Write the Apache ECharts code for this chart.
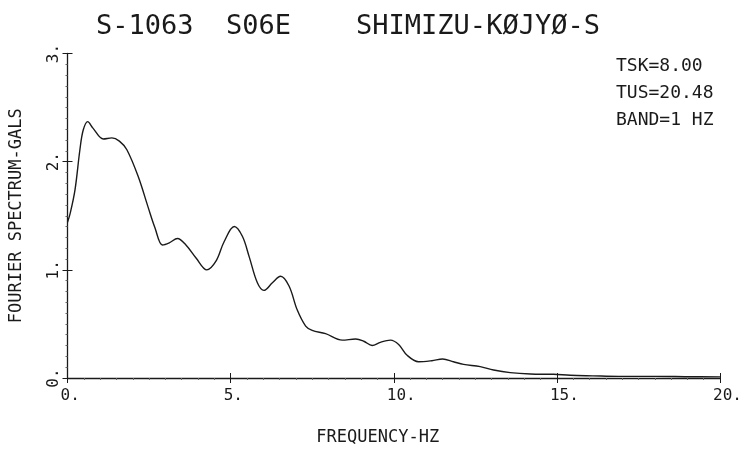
<!DOCTYPE html>
<html>
<head>
<meta charset="utf-8">
<script src="https://cdn.jsdelivr.net/npm/echarts@6/dist/echarts.min.js"></script>
<style>
html,body{margin:0;padding:0;background:#fff;}
#chart{width:742px;height:449px;}
</style>
</head>
<body>
<div id="chart"></div>
<script>
// ---- data ----
var titleText = 'S-1063  S06E    SHIMIZU-KØJYØ-S';
var infoLines = ['TSK=8.00', 'TUS=20.48', 'BAND=1 HZ'];
var xName = 'FREQUENCY-HZ';
var yName = 'FOURIER SPECTRUM-GALS';
var xTicks = [0, 5, 10, 15, 20];
var yTicks = [0, 1, 2, 3];
var freq = [0, 0.08, 0.23, 0.38, 0.48, 0.62, 0.78, 1.10, 1.36, 1.59, 1.82, 2.17, 2.47, 2.68, 2.91, 3.12, 3.37, 3.63, 3.94, 4.27, 4.55, 4.80, 5.11, 5.36, 5.57, 5.82, 6.02, 6.28, 6.53, 6.79, 7.04, 7.30, 7.50, 7.91, 8.42, 8.83, 9.08, 9.34, 9.59, 9.90, 10.15, 10.41, 10.76, 11.17, 11.50, 11.83, 12.14, 12.65, 13.06, 13.57, 14.19, 14.90, 15.41, 16.10, 16.90, 18.00, 19.00, 20.00];
var amp  = [1.44, 1.52, 1.74, 2.11, 2.29, 2.37, 2.31, 2.21, 2.22, 2.19, 2.11, 1.86, 1.58, 1.39, 1.23, 1.25, 1.29, 1.23, 1.11, 1.00, 1.08, 1.26, 1.40, 1.31, 1.12, 0.88, 0.81, 0.88, 0.94, 0.85, 0.63, 0.48, 0.44, 0.41, 0.35, 0.36, 0.34, 0.30, 0.33, 0.35, 0.31, 0.21, 0.15, 0.16, 0.175, 0.15, 0.126, 0.105, 0.074, 0.05, 0.037, 0.034, 0.025, 0.02, 0.015, 0.015, 0.012, 0.01];

var FONT = 'DejaVu Sans Mono';
var INK = '#1a1a1a';
var pts = freq.map(function (f, i) { return [f, amp[i]]; });

var chart = echarts.init(document.getElementById('chart'), null, {renderer: 'canvas'});
chart.setOption({
  backgroundColor: '#ffffff',
  animation: false,
  title: [
    {text: titleText, left: 91, top: 8,
     textStyle: {fontFamily: FONT, fontSize: 27, fontWeight: 'normal', color: INK}},
    {text: infoLines[0], left: 611, top: 52,
     textStyle: {fontFamily: FONT, fontSize: 18, fontWeight: 'normal', color: INK}},
    {text: infoLines[1], left: 611, top: 79,
     textStyle: {fontFamily: FONT, fontSize: 18, fontWeight: 'normal', color: INK}},
    {text: infoLines[2], left: 611, top: 106,
     textStyle: {fontFamily: FONT, fontSize: 18, fontWeight: 'normal', color: INK}}
  ],
  grid: {left: 67.5, right: 22, top: 53.5, bottom: 71, containLabel: false, outerBoundsMode: 'none'},
  xAxis: [
    {type: 'value', min: xTicks[0], max: xTicks[xTicks.length - 1], interval: 5,
     name: xName, nameLocation: 'middle', nameGap: 51,
     nameTextStyle: {fontFamily: FONT, fontSize: 17, color: INK, padding: [0, 32, 0, 0]},
     axisLine: {show: true, lineStyle: {color: INK, width: 1.3}},
     axisTick: {show: true, inside: false, length: 5, lineStyle: {color: INK, width: 1}},
     minorTick: {show: true, splitNumber: 10, length: 2, lineStyle: {color: '#666', width: 1}},
     axisLabel: {fontFamily: FONT, fontSize: 16, color: INK, margin: 10, align: 'left',
                 padding: [0, 0, 0, -7],
                 formatter: function (v) { return v + '.'; }},
     splitLine: {show: false}},
    {type: 'value', min: xTicks[0], max: xTicks[xTicks.length - 1], interval: 5,
     position: 'bottom', gridIndex: 0,
     axisLine: {show: false},
     axisTick: {show: true, inside: true, length: 5, lineStyle: {color: INK, width: 1}},
     axisLabel: {show: false}, splitLine: {show: false}}
  ],
  yAxis: [
    {type: 'value', min: yTicks[0], max: yTicks[yTicks.length - 1], interval: 1,
     name: yName, nameLocation: 'middle', nameGap: 42, nameRotate: 90,
     nameTextStyle: {fontFamily: FONT, fontSize: 17, color: INK},
     axisLine: {show: true, lineStyle: {color: INK, width: 1.3}},
     axisTick: {show: true, inside: false, length: 5, lineStyle: {color: INK, width: 1}},
     minorTick: {show: true, splitNumber: 10, length: 2, lineStyle: {color: '#666', width: 1}},
     axisLabel: {fontFamily: FONT, fontSize: 16, color: INK, margin: 6, rotate: 90,
                 formatter: function (v) { return v + '.'; }},
     splitLine: {show: false}},
    {type: 'value', min: yTicks[0], max: yTicks[yTicks.length - 1], interval: 1,
     position: 'left', gridIndex: 0,
     axisLine: {show: false},
     axisTick: {show: true, inside: true, length: 5, lineStyle: {color: INK, width: 1}},
     axisLabel: {show: false}, splitLine: {show: false}}
  ],
  series: [{
    type: 'line', xAxisIndex: 0, yAxisIndex: 0,
    data: pts, smooth: 0.35, showSymbol: false, symbol: 'none',
    lineStyle: {color: INK, width: 1.4}
  }]
});
</script>
</body>
</html>
